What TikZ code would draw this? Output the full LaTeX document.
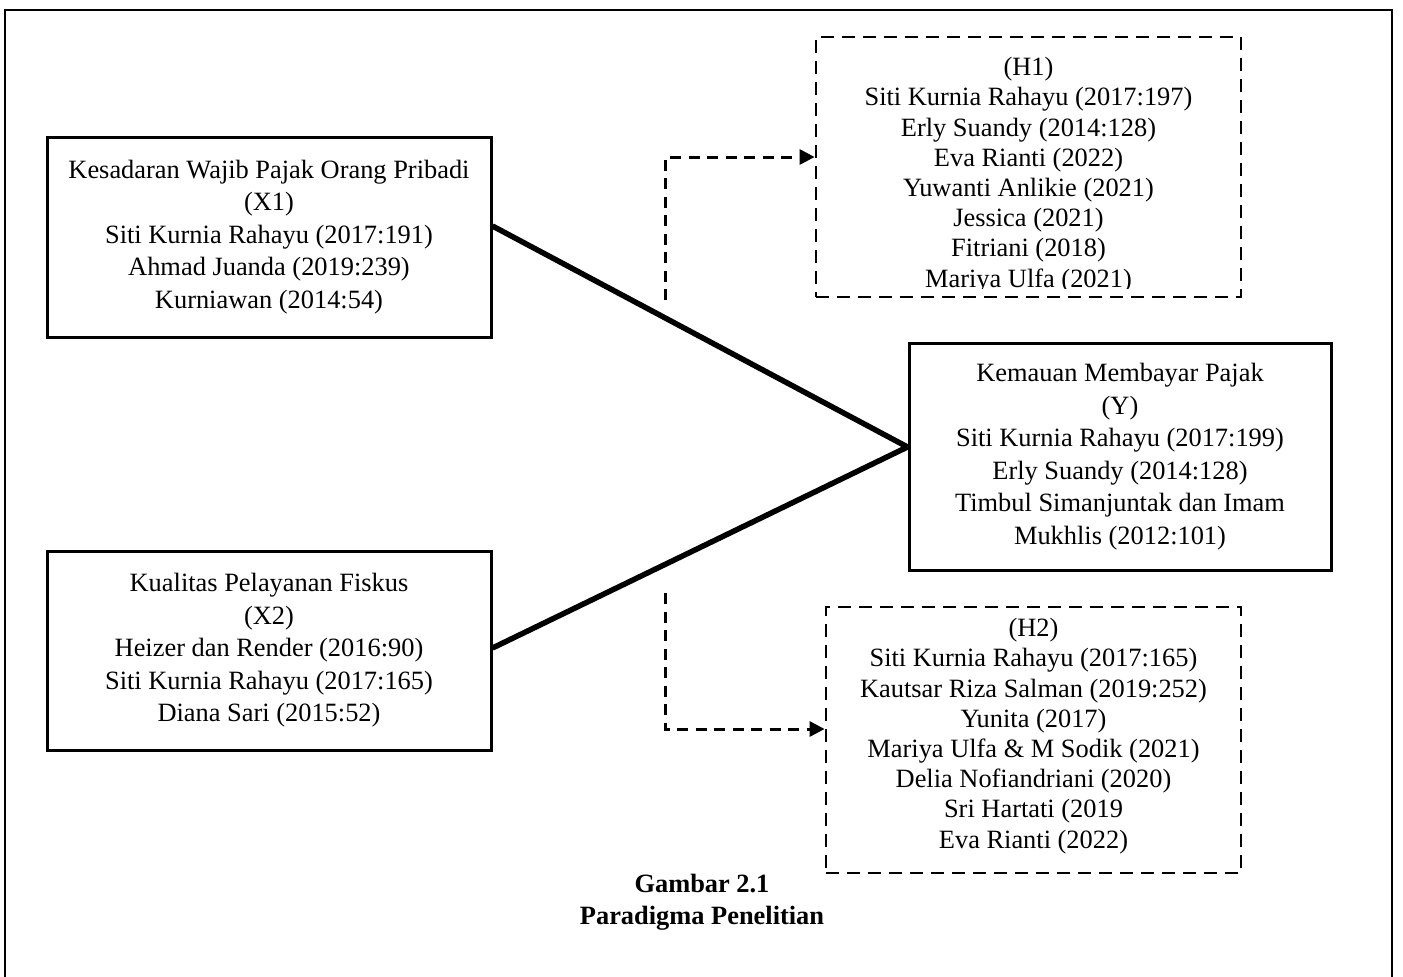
\documentclass[tikz,border=0pt]{standalone}
\usepackage{fontspec}
\setmainfont{Liberation Serif}
\usetikzlibrary{arrows.meta}
\begin{document}
\begin{tikzpicture}[x=1pt,y=-1pt,
  solidbox/.style={draw, line width=3pt, align=center, inner sep=0pt, font=\fontsize{26.4}{32.5}\selectfont},
  dashbox/.style={draw, line width=2.8pt, dash pattern=on 13pt off 8pt, inner sep=0pt},
  reftext/.style={align=center, inner sep=0pt, font=\fontsize{26.4}{30.2}\selectfont},
  link/.style={line width=5.5pt},
  hyparrow/.style={line width=3pt, dash pattern=on 11pt off 7.5pt, -{Triangle[length=15pt,width=15pt]}},
  caption/.style={align=center, inner sep=0pt, font=\bfseries\fontsize{26.4}{32}\selectfont}
]
\clip (0,0) rectangle (1403,977);
\draw[line width=2pt] (5,10) rectangle (1392,1010);

\node[solidbox, minimum width=444pt, minimum height=200pt] (x1) at (269,237)
  {Kesadaran Wajib Pajak Orang Pribadi\\(X1)\\Siti Kurnia Rahayu (2017:191)\\Ahmad Juanda (2019:239)\\Kurniawan (2014:54)};
\node[solidbox, minimum width=444pt, minimum height=199pt] (x2) at (269,650.5)
  {Kualitas Pelayanan Fiskus\\(X2)\\Heizer dan Render (2016:90)\\Siti Kurnia Rahayu (2017:165)\\Diana Sari (2015:52)};
\node[solidbox, minimum width=422pt, minimum height=227pt] (y) at (1120,456.5)
  {Kemauan Membayar Pajak\\(Y)\\Siti Kurnia Rahayu (2017:199)\\Erly Suandy (2014:128)\\Timbul Simanjuntak dan Imam\\Mukhlis (2012:101)};

\node[dashbox, minimum width=425pt, minimum height=260pt] (h1) at (1028.5,167) {};
\begin{scope}
  \clip (h1.north west) rectangle ([yshift=10pt]h1.south east);
  \node[reftext] (h1text) at (1028.5,175)
    {(H1)\\Siti Kurnia Rahayu (2017:197)\\Erly Suandy (2014:128)\\Eva Rianti (2022)\\Yuwanti Anlikie (2021)\\Jessica (2021)\\Fitriani (2018)\\Mariya Ulfa (2021)};
\end{scope}

\node[dashbox, minimum width=415pt, minimum height=266pt] (h2) at (1033.5,740) {};
\node[reftext] (h2text) at (1033.5,736)
  {(H2)\\Siti Kurnia Rahayu (2017:165)\\Kautsar Riza Salman (2019:252)\\Yunita (2017)\\Mariya Ulfa \& M Sodik (2021)\\Delia Nofiandriani (2020)\\Sri Hartati (2019\\Eva Rianti (2022)};

\draw[link] ([yshift=11pt]x1.east) -- ([yshift=9.5pt]y.west);
\draw[link] ([yshift=2.5pt]x2.east) -- ([yshift=9.5pt]y.west);

\coordinate (s1) at (665,300);
\coordinate (s2) at (665,593);
\draw[hyparrow] (s1) |- ([yshift=10pt]h1.west);
\draw[hyparrow] (s2) |- ([yshift=11pt]h2.west);

\node[caption] (cap) at (702,902) {Gambar 2.1\\Paradigma Penelitian};
\end{tikzpicture}
\end{document}
